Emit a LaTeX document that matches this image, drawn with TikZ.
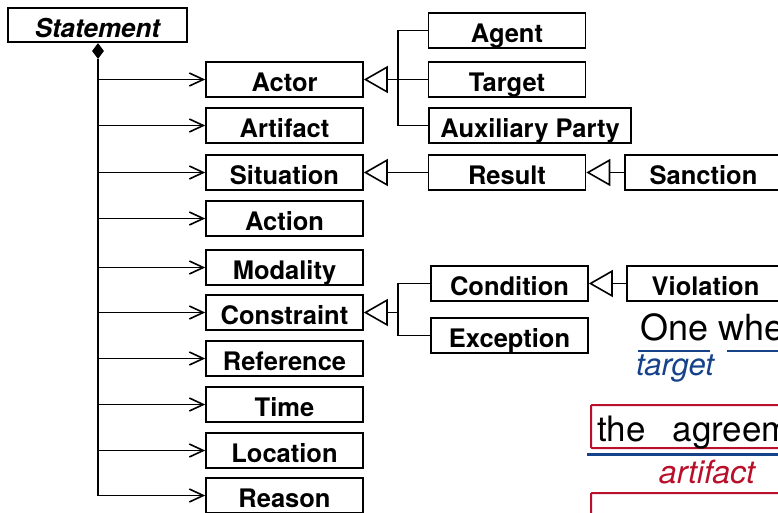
\documentclass[tikz,border=0pt]{standalone}
\usepackage{fontspec}
\setmainfont{TeX Gyre Heros}
\usetikzlibrary{arrows.meta,positioning,shapes.geometric}
\definecolor{tagblue}{RGB}{22,66,138}
\definecolor{tagred}{RGB}{184,16,42}

\begin{document}
\begin{tikzpicture}[x=1pt, y=-1pt,
  cls/.style={draw, line width=1.6pt, minimum width=157pt, minimum height=35pt, inner sep=0pt, text height=24pt, text depth=0pt, font=\fontsize{25.5}{28}\selectfont\bfseries},
  link/.style={line width=1.6pt},
  assoc/.style={link, -{Straight Barb[length=14pt, width=13pt, line width=1.6pt]}},
  gen/.style={link, -{Triangle[open, length=24pt, width=27pt, fill=white, line width=1.6pt]}},
  word/.style={inner sep=0pt, anchor=base west, font=\fontsize{36}{40}\selectfont}]
\useasboundingbox (0,0) rectangle (778,512);
\clip (0,0) rectangle (778,512);
% Statement and its parts
\node[cls, minimum width=179pt, minimum height=34pt, font=\fontsize{26}{29}\selectfont\bfseries\itshape] (stmt) at (97.5,25) {Statement};
\node[diamond, fill, inner sep=0pt, minimum width=12pt, minimum height=16pt] (agg) at (98,51) {};
\node[cls] (actor) at (284.5,79.5) {Actor};
\node[cls] (artifact) at (284.5,125.5) {Artifact};
\node[cls] (situation) at (284.5,172.5) {Situation};
\node[cls] (action) at (284.5,218.5) {Action};
\node[cls] (modality) at (284.5,267.5) {Modality};
\node[cls] (constraint) at (284.5,312.5) {Constraint};
\node[cls] (reference) at (284.5,358.5) {Reference};
\node[cls] (time) at (284.5,404.5) {Time};
\node[cls] (location) at (284.5,450.5) {Location};
\node[cls] (reason) at (284.5,495.5) {Reason};
% trunk
\draw[link] (agg.south) -- (agg.south |- reason.west);
\foreach \c in {actor,artifact,situation,action,modality,constraint,reference,time,location,reason}
  \draw[assoc] (agg.south |- \c.west) -- (\c.west);
% subclasses
\node[cls] (agent) at (507,30.5) {Agent};
\node[cls] (target) at (507,79.5) {Target};
\node[cls, minimum width=202pt] (auxparty) at (530,125.5) {Auxiliary Party};
\node[cls] (result) at (507,172.5) {Result};
\node[cls] (sanction) at (703.5,172.5) {Sanction};
\node[cls] (condition) at (509.5,283.5) {Condition};
\node[cls] (violation) at (705.5,283.5) {Violation};
\node[cls] (exception) at (509.5,335.5) {Exception};
\coordinate (actorjoin) at (398,79.5);
\coordinate (constjoin) at (398,312.5);
\draw[link] (agent.west) -| (actorjoin) |- (auxparty.west);
\draw[gen] (target.west) -- (actor.east);
\draw[gen] (result.west) -- (situation.east);
\draw[gen] (sanction.west) -- (result.east);
\draw[link] (condition.west) -| (constjoin) |- (exception.west);
\draw[gen] (constjoin) -- (constraint.east);
\draw[gen] (violation.west) -- (condition.east);
% annotated text
\node[word] (one) at (640,340) {One whe};
\draw[tagblue, line width=2pt] (638,351) -- (710,351);
\draw[tagblue, line width=2pt] (727,351) -- (790,351);
\node[tagblue, inner sep=0pt, anchor=base, font=\fontsize{31}{34}\selectfont\itshape] (targetlbl) at (675,375) {target};
\draw[tagred, line width=2pt, rounded corners=1pt] (591,405) rectangle (800,448);
\node[word, font=\fontsize{35}{40}\selectfont] (the) at (597,441) {the\hspace{27pt}agreement};
\draw[tagblue, line width=2.5pt] (587,454.5) -- (790,454.5);
\node[tagred, inner sep=0pt, anchor=base, font=\fontsize{32}{35}\selectfont\itshape] (artifactlbl) at (707,483) {artifact};
\draw[tagred, line width=2pt, rounded corners=1pt] (591,493) rectangle (800,540);
\end{tikzpicture}
\end{document}
